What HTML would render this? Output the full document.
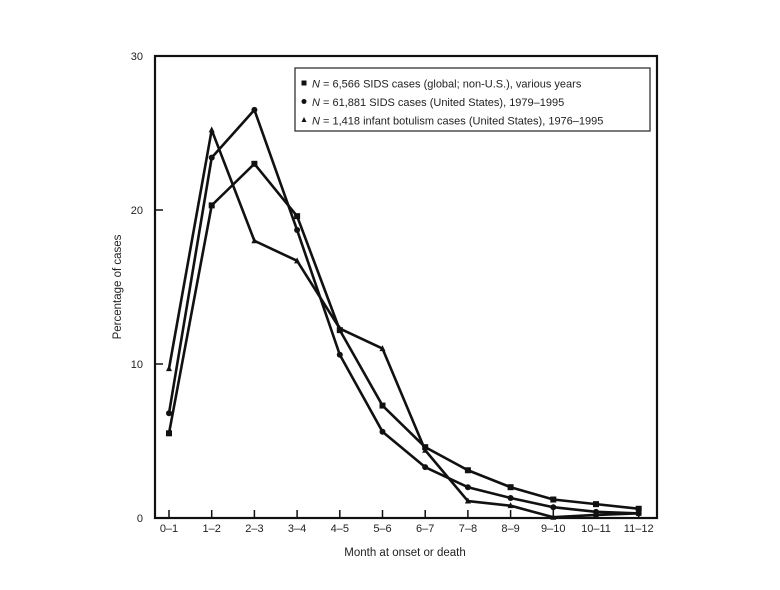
<!DOCTYPE html>
<html><head><meta charset="utf-8"><style>
body{margin:0;background:#fff;}
svg text{font-family:"Liberation Sans",sans-serif;fill:#222;}
</style></head><body>
<svg width="780" height="585" viewBox="0 0 780 585" xmlns="http://www.w3.org/2000/svg">
<g id="plot"></g>
</svg>
<script>
const categories=["0–1","1–2","2–3","3–4","4–5","5–6","6–7","7–8","8–9","9–10","10–11","11–12"];
const globalSids=[5.5,20.3,23.0,19.6,12.2,7.3,4.6,3.1,2.0,1.2,0.9,0.6];
const usSids=[6.8,23.4,26.5,18.7,10.6,5.6,3.3,2.0,1.3,0.7,0.4,0.3];
const botulism=[9.7,25.2,18.0,16.7,12.3,11.0,4.4,1.1,0.8,0.05,0.2,0.3];
const yTicks=[0,10,20,30];
const L=155,R=657,T=56,B=518,X0=169,STEP=42.7;
const xs=i=>X0+i*STEP;
const ys=v=>B-(v/30)*(B-T);
const ns="http://www.w3.org/2000/svg";
const g=document.getElementById('plot');
function el(t,a,p){const e=document.createElementNS(ns,t);for(const k in a)e.setAttribute(k,a[k]);(p||g).appendChild(e);return e;}
let e=el('rect',{x:L,y:T,width:R-L,height:B-T,fill:'none',stroke:'#111','stroke-width':2.2});

yTicks.forEach(v=>{
 let t=el('line',{x1:L,x2:L+8,y1:ys(v),y2:ys(v),stroke:'#111','stroke-width':1.5});
 
 let tx=el('text',{x:L-12,y:ys(v)+4,'text-anchor':'end','font-size':11});tx.textContent=v;
 
});
categories.forEach((c,i)=>{
 let t=el('line',{x1:xs(i),x2:xs(i),y1:B,y2:B-8,stroke:'#111','stroke-width':1.5});
 
 let tx=el('text',{x:xs(i),y:532,'text-anchor':'middle','font-size':11});tx.textContent=c;
 
});
let xt=el('text',{x:405,y:556,'text-anchor':'middle','font-size':11.5});xt.textContent='Month at onset or death';

let yt=el('text',{x:0,y:0,'text-anchor':'middle','font-size':11.5,transform:'translate(121,287) rotate(-90)'});yt.textContent='Percentage of cases';

function marker(kind,x,y,parent,s){
 s=s||3;let m;
 if(kind==='sq')m=el('rect',{x:x-s,y:y-s,width:2*s,height:2*s,fill:'#111'},parent);
 else if(kind==='ci')m=el('circle',{cx:x,cy:y,r:s,fill:'#111'},parent);
 else m=el('polygon',{points:`${x},${y-s-0.5} ${x-s},${y+s-0.5} ${x+s},${y+s-0.5}`,fill:'#111'},parent);
 
}
[[globalSids,'sq','series-global-sids'],[usSids,'ci','series-us-sids'],[botulism,'tr','series-botulism']].forEach(([d,k,n])=>{
 const sg=el('g',{});
 const p=el('polyline',{points:d.map((v,i)=>xs(i)+','+ys(v)).join(' '),fill:'none',stroke:'#111','stroke-width':2.6,'stroke-linejoin':'round'},sg);
 
 d.forEach((v,i)=>marker(k,xs(i),ys(v),sg));
});
const lg=el('g',{});
const lb=el('rect',{x:295,y:68,width:355,height:63,fill:'#fff',stroke:'#333','stroke-width':1.3},lg);

const legendRows=[['sq','6,566 SIDS cases (global; non-U.S.), various years'],['ci','61,881 SIDS cases (United States), 1979–1995'],['tr','1,418 infant botulism cases (United States), 1976–1995']];
legendRows.forEach(([k,t],i)=>{
 const y=84+i*18.5;
 marker(k,304,y-1,lg,2.5);
 const tx=el('text',{x:312,y:y+3.5,'font-size':11},lg);
 
 const it=document.createElementNS(ns,'tspan');it.setAttribute('font-style','italic');it.textContent='N';tx.appendChild(it);
 tx.appendChild(document.createTextNode(' = '+t));
});
</script>
</body></html>
